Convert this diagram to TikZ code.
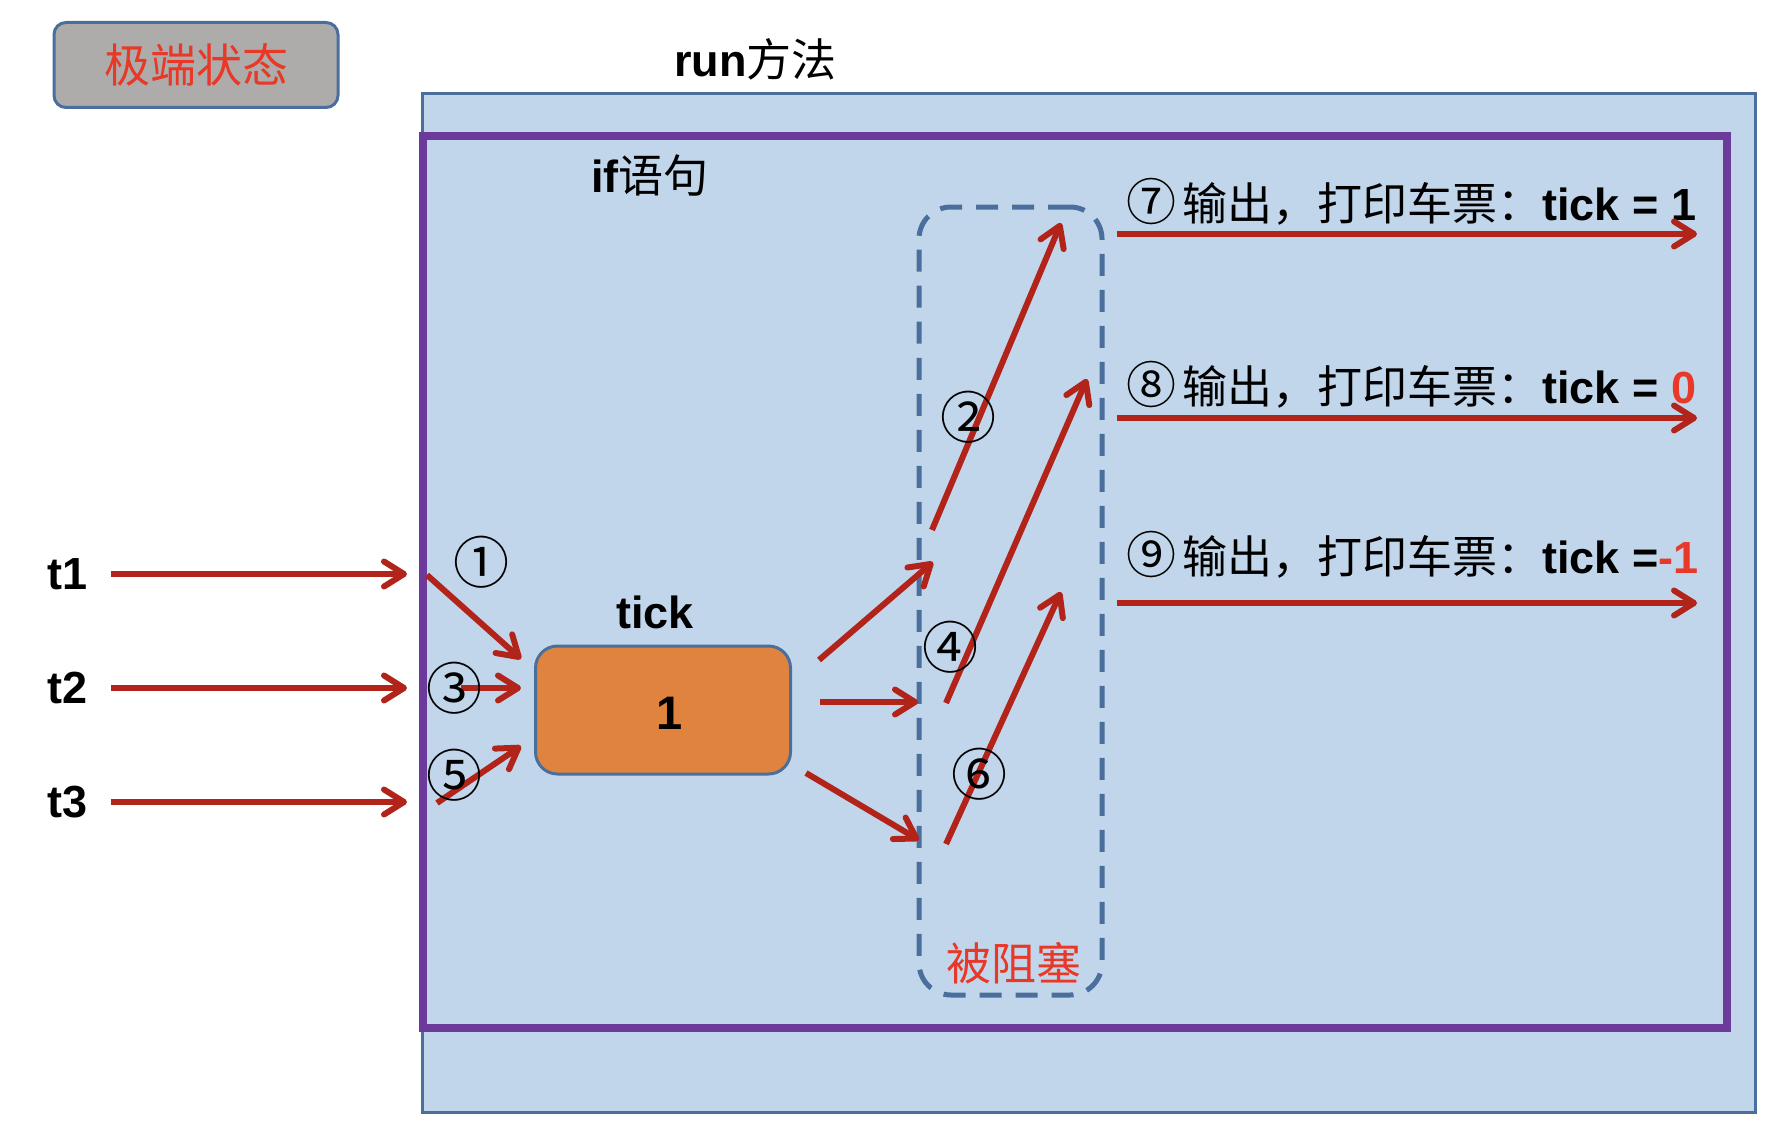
\documentclass[tikz,border=0pt]{standalone}
\usepackage{fontspec}
\setmainfont{Liberation Sans}
\newfontfamily\cjk{Noto Sans CJK SC}
\usetikzlibrary{arrows.meta,positioning}

\definecolor{runfill}{HTML}{C2D6EB}
\definecolor{boxline}{HTML}{4A6F9C}
\definecolor{ifline}{HTML}{6B3A9B}
\definecolor{flowred}{HTML}{B2231A}
\definecolor{notered}{HTML}{E83828}
\definecolor{stategray}{HTML}{ADACAA}
\definecolor{tickfill}{HTML}{E0833F}

\tikzset{
  caption/.style={inner sep=0pt,font=\fontsize{45}{54}\selectfont},
  step mark/.style={inner sep=0pt,font=\fontsize{56}{60}\selectfont\cjk},
  statebox/.style={draw=boxline,line width=3pt,fill=stategray,rounded corners=12pt,
    minimum width=284pt,minimum height=85pt,text=notered,font=\fontsize{46}{54}\selectfont},
  runbox/.style={draw=boxline,line width=3pt,fill=runfill,outer sep=0pt,inner sep=0pt},
  ifbox/.style={draw=ifline,line width=8pt,outer sep=0pt,inner sep=0pt},
  blockedbox/.style={draw=boxline,line width=5pt,dash pattern=on 22pt off 14pt,
    rounded corners=32pt,outer sep=0pt,inner sep=0pt},
  tickbox/.style={draw=boxline,line width=3pt,fill=tickfill,rounded corners=22pt,
    minimum width=255pt,minimum height=128pt},
  flow/.style={draw=flowred,line width=6pt,-{Straight Barb[length=20pt,width=25pt,round]}}
}
\newcommand{\rowmark}[1]{{\fontsize{50}{54}\selectfont\cjk #1}\hspace{6pt}}

\begin{document}
\begin{tikzpicture}[x=1pt,y=-1pt]
  \useasboundingbox (0,0) rectangle (1776,1142);
  \node[statebox] (state) at (196,65) {\cjk 极端状态};
  \node[caption,anchor=base west] (run) at (674,77) {\textbf{run}{\cjk 方法}};
  \node[runbox,anchor=north west,minimum width=1333pt,minimum height=1018pt] (runbody) at (422,94) {};
  \node[ifbox,anchor=north west,minimum width=1304pt,minimum height=892pt] (ifbody) at (423,136) {};
  \node[caption,anchor=base west] (if) at (591,193) {\textbf{if}{\cjk 语句}};
  \node[blockedbox,anchor=north west,minimum width=183pt,minimum height=788pt] (blocked) at (919,207) {};
  \node[caption,text=notered] (blockedtext) at (1014,963) {\cjk 被阻塞};

  \node[tickbox] (tick) at (663,710) {};
  \node[caption,font=\fontsize{47}{54}\selectfont] (tickvalue) at (670,713) {\textbf{1}};
  \node[caption,above=15pt of tick,xshift=-8pt] (ticklabel) {\textbf{tick}};

  \node[caption] (t1) at (68,574) {\textbf{t1}};
  \node[caption] (t2) at (68,688) {\textbf{t2}};
  \node[caption] (t3) at (68,802) {\textbf{t3}};
  \coordinate (t1end) at (407,574);
  \coordinate (t2end) at (407,688);
  \coordinate (t3end) at (407,802);
  \draw[flow,shorten <=23pt] (t1) -- (t1end);
  \draw[flow,shorten <=23pt] (t2) -- (t2end);
  \draw[flow,shorten <=23pt] (t3) -- (t3end);

  \coordinate (s1) at (427,575);
  \coordinate (e1) at (521,659);
  \coordinate (s3) at (461,688);
  \coordinate (e3) at (521,688);
  \coordinate (s5) at (437,803);
  \coordinate (e5) at (521,746);
  \draw[flow] (s1) -- (e1);
  \draw[flow] (s3) -- (e3);
  \draw[flow] (s5) -- (e5);

  \coordinate (o1s) at (819,660);
  \coordinate (o1e) at (933,562);
  \coordinate (o2s) at (820,702);
  \coordinate (o2e) at (918,702);
  \coordinate (o3s) at (806,773);
  \coordinate (o3e) at (919,840);
  \draw[flow] (o1s) -- (o1e);
  \draw[flow] (o2s) -- (o2e);
  \draw[flow] (o3s) -- (o3e);

  \coordinate (d2s) at (932,530);
  \coordinate (d2e) at (1061,223);
  \coordinate (d4s) at (946,703);
  \coordinate (d4e) at (1087,379);
  \coordinate (d6s) at (946,844);
  \coordinate (d6e) at (1061,592);
  \draw[flow] (d2s) -- (d2e);
  \draw[flow] (d4s) -- (d4e);
  \draw[flow] (d6s) -- (d6e);

  \node[caption,anchor=base west] (row7) at (1126,220) {\rowmark{⑦}{\cjk 输出，打印车票：}\textbf{tick = 1}};
  \node[caption,anchor=base west] (row8) at (1126,403) {\rowmark{⑧}{\cjk 输出，打印车票：}\textbf{tick = \textcolor{notered}{0}}};
  \node[caption,anchor=base west] (row9) at (1126,573) {\rowmark{⑨}{\cjk 输出，打印车票：}\textbf{tick =\textcolor{notered}{-1}}};
  \coordinate (r7s) at (1117,234);
  \coordinate (r7e) at (1697,234);
  \coordinate (r8s) at (1117,418);
  \coordinate (r8e) at (1697,418);
  \coordinate (r9s) at (1117,603);
  \coordinate (r9e) at (1697,603);
  \draw[flow] (r7s) -- (r7e);
  \draw[flow] (r8s) -- (r8e);
  \draw[flow] (r9s) -- (r9e);

  \node[step mark] (n1) at (481,562) {①};
  \node[step mark] (n2) at (968,417) {②};
  \node[step mark] (n3) at (454,688) {③};
  \node[step mark] (n4) at (950,647) {④};
  \node[step mark] (n5) at (454,775) {⑤};
  \node[step mark] (n6) at (979,774) {⑥};
\end{tikzpicture}
\end{document}
